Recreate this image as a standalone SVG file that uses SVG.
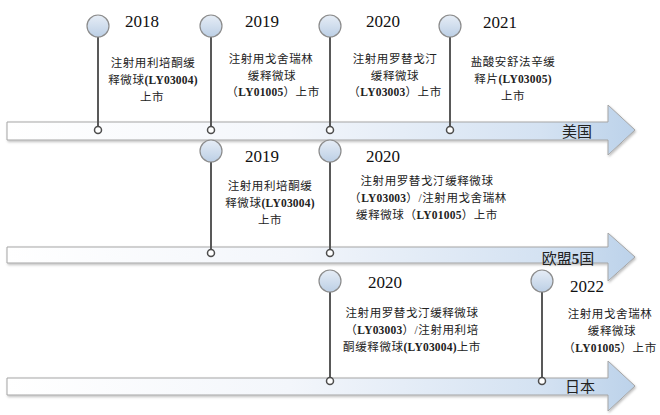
<svg xmlns="http://www.w3.org/2000/svg" width="660" height="415" viewBox="0 0 660 415">
<defs>
<linearGradient id="barGrad" x1="0" y1="0" x2="1" y2="0">
<stop offset="0" stop-color="#ffffff"/>
<stop offset="0.45" stop-color="#f3f6fb"/>
<stop offset="0.85" stop-color="#d4e2f2"/>
<stop offset="1" stop-color="#bcd2ea"/>
</linearGradient>
<linearGradient id="dotGrad" x1="0" y1="0" x2="0" y2="1">
<stop offset="0" stop-color="#e6edf6"/>
<stop offset="1" stop-color="#bccfe5"/>
</linearGradient>
<filter id="sh" x="-5%" y="-20%" width="110%" height="150%">
<feDropShadow dx="1" dy="1.5" stdDeviation="1" flood-color="#000" flood-opacity="0.25"/>
</filter>
</defs>
<style>
.arrow{fill:url(#barGrad);stroke:#a5a5a5;stroke-width:1;filter:url(#sh)}
.stem{stroke:#595959;stroke-width:2}
.dot{fill:url(#dotGrad);stroke:#8c8c8c;stroke-width:1.2}
.end{fill:#fff;stroke:#4d4d4d;stroke-width:1.5}
.yr{font-family:"Liberation Serif","Times New Roman",serif;font-size:17px;fill:#111;text-anchor:middle}
.t{font-family:"Liberation Serif","Noto Sans CJK SC",serif;font-size:11.5px;fill:#222;text-anchor:middle;letter-spacing:0.6px}
.b{font-weight:bold;letter-spacing:0.2px}
.lab{font-family:"Liberation Serif","Noto Sans CJK SC",serif;font-size:15px;fill:#222;text-anchor:middle}
</style>
<g id="arrows">
<path id="arrow-us" class="arrow" d="M7,122 H608 V105 L635,130 L608,155 V140 H7 Z"/>
<path id="arrow-eu" class="arrow" d="M7,247 H608 V233 L635,257 L608,281 V263 H7 Z"/>
<path id="arrow-jp" class="arrow" d="M7,378 H608 V361 L635,386 L608,411 V395 H7 Z"/>
<text class="lab" x="577" y="137">美国</text>
<text class="lab" x="568" y="264">欧盟<tspan font-weight="bold">5</tspan>国</text>
<text class="lab" x="580" y="392">日本</text>
</g>
<g id="connectors">
<line class="stem" x1="98" y1="37" x2="98" y2="130"/>
<line class="stem" x1="211" y1="37" x2="211" y2="130"/>
<line class="stem" x1="330" y1="37" x2="330" y2="130"/>
<line class="stem" x1="450" y1="37" x2="450" y2="130"/>
<line class="stem" x1="211" y1="162" x2="211" y2="253"/>
<line class="stem" x1="330" y1="162" x2="330" y2="253"/>
<line class="stem" x1="330" y1="292" x2="330" y2="381"/>
<line class="stem" x1="542" y1="292" x2="542" y2="381"/>
</g>
<g id="us-2018">
<circle class="dot" cx="98" cy="26" r="11"/><circle class="end" cx="98" cy="130" r="3.5"/>
<text class="yr" x="142" y="27">2018</text>
<text class="t" x="153" y="67">注射用利培酮缓</text>
<text class="t" x="153" y="84">释微球<tspan class="b">(LY03004)</tspan></text>
<text class="t" x="152" y="101">上市</text>
</g>
<g id="us-2019">
<circle class="dot" cx="211" cy="26" r="11"/><circle class="end" cx="211" cy="130" r="3.5"/>
<text class="yr" x="262" y="27">2019</text>
<text class="t" x="271" y="63">注射用戈舍瑞林</text>
<text class="t" x="272" y="80">缓释微球</text>
<text class="t" x="273" y="96">（<tspan class="b">LY01005</tspan>）上市</text>
</g>
<g id="us-2020">
<circle class="dot" cx="330" cy="26" r="11"/><circle class="end" cx="330" cy="130" r="3.5"/>
<text class="yr" x="383" y="27">2020</text>
<text class="t" x="395" y="63">注射用罗替戈汀</text>
<text class="t" x="395" y="80">缓释微球</text>
<text class="t" x="395" y="96">（<tspan class="b">LY03003</tspan>）上市</text>
</g>
<g id="us-2021">
<circle class="dot" cx="450" cy="26" r="11"/><circle class="end" cx="450" cy="130" r="3.5"/>
<text class="yr" x="500" y="28">2021</text>
<text class="t" x="513" y="66">盐酸安舒法辛缓</text>
<text class="t" x="513" y="83">释片<tspan class="b">(LY03005)</tspan></text>
<text class="t" x="513" y="100">上市</text>
</g>
<g id="eu-2019">
<circle class="dot" cx="211" cy="151" r="11"/><circle class="end" cx="211" cy="253" r="3.5"/>
<text class="yr" x="262" y="162">2019</text>
<text class="t" x="270" y="190">注射用利培酮缓</text>
<text class="t" x="270" y="207">释微球<tspan class="b">(LY03004)</tspan></text>
<text class="t" x="270" y="224">上市</text>
</g>
<g id="eu-2020">
<circle class="dot" cx="330" cy="151" r="11"/><circle class="end" cx="330" cy="253" r="3.5"/>
<text class="yr" x="383" y="162">2020</text>
<text class="t" x="427" y="185">注射用罗替戈汀缓释微球</text>
<text class="t" x="428" y="202">（<tspan class="b">LY03003</tspan>）/注射用戈舍瑞林</text>
<text class="t" x="427" y="219">缓释微球（<tspan class="b">LY01005</tspan>）上市</text>
</g>
<g id="jp-2020">
<circle class="dot" cx="330" cy="281" r="11"/><circle class="end" cx="330" cy="381" r="3.5"/>
<text class="yr" x="385" y="288">2020</text>
<text class="t" x="412" y="317">注射用罗替戈汀缓释微球</text>
<text class="t" x="412" y="334">（<tspan class="b">LY03003</tspan>）/注射用利培</text>
<text class="t" x="412" y="351">酮缓释微球<tspan class="b">(LY03004)</tspan>上市</text>
</g>
<g id="jp-2022">
<circle class="dot" cx="542" cy="281" r="11"/><circle class="end" cx="542" cy="381" r="3.5"/>
<text class="yr" x="587" y="292">2022</text>
<text class="t" x="610" y="318">注射用戈舍瑞林</text>
<text class="t" x="612" y="335">缓释微球</text>
<text class="t" x="610" y="352">（<tspan class="b">LY01005</tspan>）上市</text>
</g>
</svg>
